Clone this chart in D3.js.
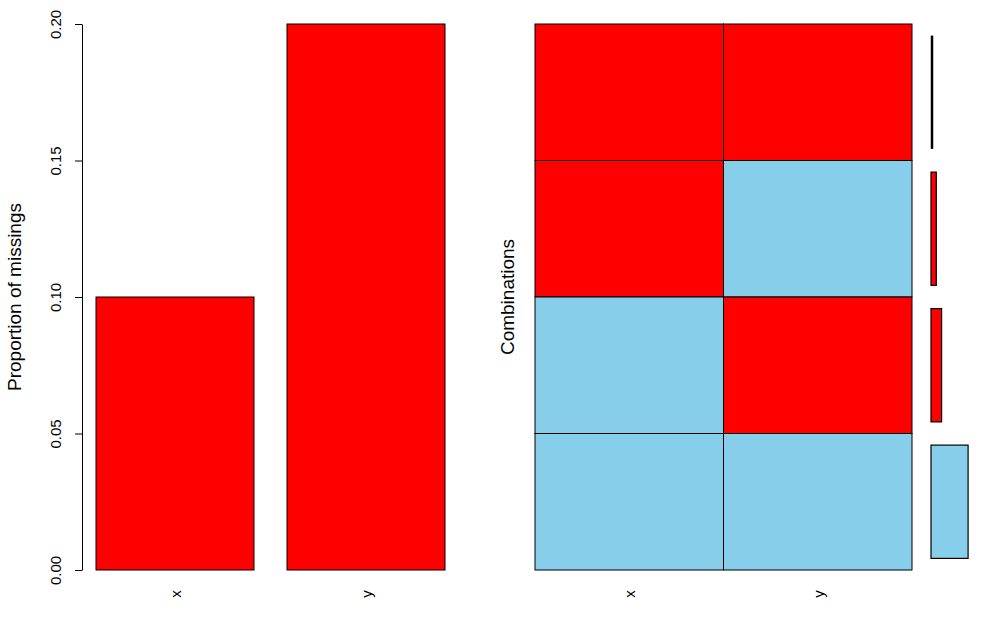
<!DOCTYPE html>
<html><head><meta charset="utf-8">
<script src="https://cdn.jsdelivr.net/npm/d3@7"></script>
<style>body{margin:0;background:#fff}svg{display:block}text{font-family:"Liberation Sans",Arial,sans-serif}</style>
</head><body><svg id="c" width="985" height="636"></svg>
<script>
const variables = ["x", "y"];
const missingProp = [0.1, 0.2];
const yTicks = [0.00, 0.05, 0.10, 0.15, 0.20];
// combinations (top to bottom): 1 = missing, 0 = observed
const combos = [[1, 1], [1, 0], [0, 1], [0, 0]];
const comboProp = [0.0, 0.1, 0.2, 0.7];

const RED = "#FF0000", BLUE = "#87CEEB";
const svg = d3.select("#c");

// ---- left panel: proportion of missings ----
const L = {x0: 82, y0: 24, y1: 570};
const xb = d3.scaleBand().domain(variables).range([96, 445]).paddingInner(0.1728).paddingOuter(0);
const yb = d3.scaleLinear().domain([0, 0.2]).range([L.y1, L.y0]);
svg.append("g").selectAll("rect").data(variables).join("rect")
  .attr("x", d => xb(d)).attr("width", xb.bandwidth())
  .attr("y", (d, i) => yb(missingProp[i])).attr("height", (d, i) => yb(0) - yb(missingProp[i]))
  .attr("fill", RED).attr("stroke", "#000").attr("stroke-width", 1);
const ya = svg.append("g").attr("transform", `translate(${L.x0},0)`)
  .call(d3.axisLeft(yb).tickValues(yTicks).tickFormat(d3.format(".2f")).tickSize(7).tickSizeOuter(0));
ya.select(".domain").attr("stroke", "#000");
ya.selectAll(".tick line").attr("stroke", "#000");
ya.selectAll(".tick text").attr("font-size", 15).attr("fill", "#000")
  .attr("transform", "rotate(-90)").attr("x", 0).attr("y", -21).attr("dy", "0")
  .attr("text-anchor", "middle").attr("dominant-baseline", "alphabetic");
svg.append("text").attr("transform", `translate(21,${(L.y0 + L.y1) / 2}) rotate(-90)`)
  .attr("text-anchor", "middle").attr("font-size", 19).text("Proportion of missings");
svg.append("g").selectAll("text").data(variables).join("text")
  .attr("transform", d => `translate(${xb(d) + xb.bandwidth() / 2 + 6},594) rotate(-90)`)
  .attr("text-anchor", "middle").attr("font-size", 15).text(d => d);

// ---- right panel: combinations ----
const R = {x0: 535, x1: 912, y0: 24, y1: 570};
const xc = d3.scaleBand().domain(variables).range([R.x0, R.x1]);
const yc = d3.scaleBand().domain(d3.range(combos.length)).range([R.y0, R.y1]);
const cells = [];
combos.forEach((row, i) => row.forEach((m, j) => cells.push({i, v: variables[j], m})));
svg.append("g").selectAll("rect").data(cells).join("rect")
  .attr("x", d => xc(d.v)).attr("y", d => yc(d.i))
  .attr("width", xc.bandwidth()).attr("height", yc.bandwidth())
  .attr("fill", d => d.m ? RED : BLUE).attr("stroke", "#000").attr("stroke-width", 1);
svg.append("text").attr("transform", `translate(514,${(R.y0 + R.y1) / 2}) rotate(-90)`)
  .attr("text-anchor", "middle").attr("font-size", 19).text("Combinations");
svg.append("g").selectAll("text").data(variables).join("text")
  .attr("transform", d => `translate(${xc(d) + xc.bandwidth() / 2 + 6},594) rotate(-90)`)
  .attr("text-anchor", "middle").attr("font-size", 15).text(d => d);

// ---- frequency bars ----
const xf = d3.scaleLinear().domain([0, 1]).range([931, 984]);
const yf = d3.scaleBand().domain(d3.range(combos.length)).range([R.y0, R.y1]).paddingInner(0.17).paddingOuter(0.085);
const fb = svg.append("g");
comboProp.forEach((d, i) => {
  const fill = combos[i][0] === 0 && combos[i][1] === 0 ? BLUE : RED;
  if (d === 0) {
    fb.append("line").attr("x1", xf(0) + 1).attr("x2", xf(0) + 1)
      .attr("y1", yf(i)).attr("y2", yf(i) + yf.bandwidth())
      .attr("stroke", "#000").attr("stroke-width", 2.5);
  } else {
    fb.append("rect").attr("x", xf(0)).attr("y", yf(i))
      .attr("width", xf(d) - xf(0)).attr("height", yf.bandwidth())
      .attr("fill", fill).attr("stroke", "#000").attr("stroke-width", 1.2);
  }
});
</script></body></html>
